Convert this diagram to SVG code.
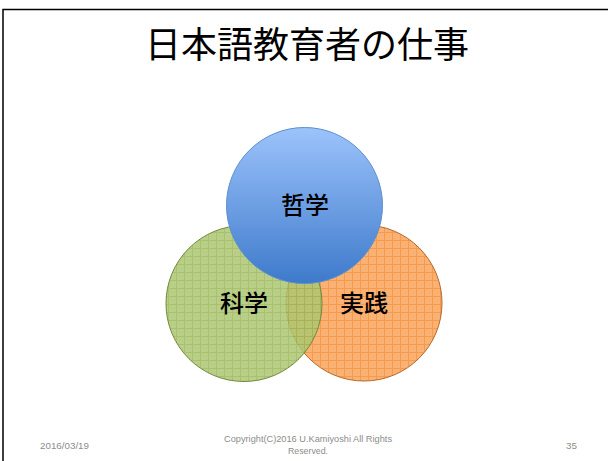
<svg xmlns="http://www.w3.org/2000/svg" width="608" height="461" viewBox="0 0 608 461">
<defs>
<style>
.t{font-family:"Noto Sans CJK JP","Noto Sans CJK SC",sans-serif;fill:#000;text-anchor:middle}
.l{font-weight:500}
.f{font-family:"Liberation Sans","DejaVu Sans",sans-serif;fill:#8c8c8c;font-size:9.5px}
</style>
<pattern id="pg" width="8" height="8" patternUnits="userSpaceOnUse">
<rect width="8" height="8" fill="#adc772"/>
<path d="M0 0.5H8M0.5 0V8" stroke="#98b656" stroke-width="1"/>
<path d="M0 4.5H8" stroke="#a0bd62" stroke-width="0.6" stroke-dasharray="1 2"/>
</pattern>
<pattern id="po" width="8" height="8" patternUnits="userSpaceOnUse">
<rect width="8" height="8" fill="#fab174"/>
<path d="M0 0.5H8M0.5 0V8" stroke="#f79a4c" stroke-width="1"/>
</pattern>
<linearGradient id="gb" x1="0" y1="0" x2="0" y2="1">
<stop offset="0" stop-color="#9cc3fb"/>
<stop offset="1" stop-color="#3e7acb"/>
</linearGradient>
</defs>
<rect x="0" y="0" width="608" height="461" fill="#fff"/>
<rect id="frame" x="3" y="9.5" width="620" height="480" fill="none" stroke="#000" stroke-width="1.5"/>
<g id="title"><text class="t" x="307" y="58" font-size="36">日本語教育者の仕事</text></g>
<g id="connectors"></g>
<g id="jissen">
<circle cx="364" cy="303" r="78" fill="url(#po)" stroke="#b6672a" stroke-width="1"/>
<text class="t l" x="364" y="312" font-size="24">実践</text>
</g>
<g id="kagaku">
<circle cx="244" cy="303.5" r="78" fill="url(#pg)" fill-opacity="0.85" stroke="#6f8a3a" stroke-width="1"/>
<text class="t l" x="244" y="312" font-size="24">科学</text>
</g>
<g id="tetsugaku">
<circle cx="304.5" cy="205.5" r="78" fill="url(#gb)" stroke="#5b8fcf" stroke-width="1"/>
<text class="t l" x="305" y="214" font-size="24">哲学</text>
</g>
<g id="footer">
<text class="f" x="40" y="449" textLength="49" lengthAdjust="spacingAndGlyphs">2016/03/19</text>
<text class="f" x="224" y="442" textLength="168" lengthAdjust="spacingAndGlyphs">Copyright(C)2016 U.Kamiyoshi All Rights</text>
<text class="f" x="288" y="454" textLength="40" lengthAdjust="spacingAndGlyphs">Reserved.</text>
<text class="f" x="566" y="449" textLength="11" lengthAdjust="spacingAndGlyphs">35</text>
</g>
</svg>
